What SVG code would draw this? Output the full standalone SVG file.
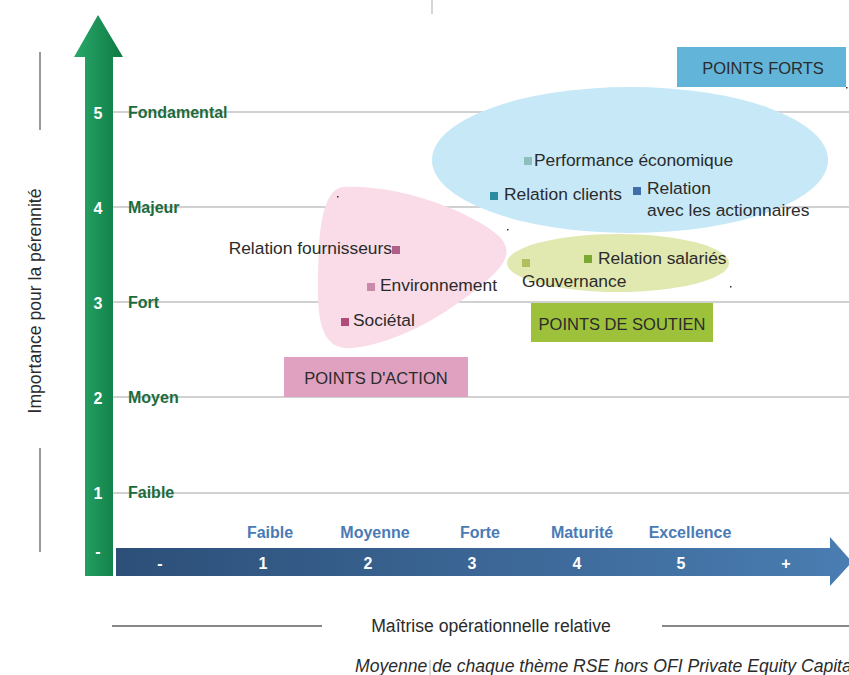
<svg xmlns="http://www.w3.org/2000/svg" width="849" height="675" viewBox="0 0 849 675">
<style>
.grid{stroke:#c2c2c2;stroke-width:1.5}
.ylab{font-family:"Liberation Sans",Arial,sans-serif;font-weight:bold;font-size:16px;fill:#1d6b3c}
.ynum{font-family:"Liberation Sans",Arial,sans-serif;font-weight:bold;font-size:16px;fill:#ffffff;text-anchor:middle}
.xlab{font-family:"Liberation Sans",Arial,sans-serif;font-weight:bold;font-size:16px;fill:#4a7bb5;text-anchor:middle}
.xnum{font-family:"Liberation Sans",Arial,sans-serif;font-weight:bold;font-size:16px;fill:#ffffff;text-anchor:middle}
.lbl{font-family:"Liberation Sans",Arial,sans-serif;font-size:17.4px;fill:#2b2b2b}
.box{font-family:"Liberation Sans",Arial,sans-serif;font-size:16.5px;fill:#2b2b2b;text-anchor:middle}
.axis{font-family:"Liberation Sans",Arial,sans-serif;font-size:17.6px;fill:#2b2b2b}
</style>
<defs>
<linearGradient id="gv" x1="0" y1="0" x2="1" y2="0">
<stop offset="0" stop-color="#2aa86a"/>
<stop offset="1" stop-color="#0d7a43"/>
</linearGradient>
<linearGradient id="gh" x1="0" y1="0" x2="1" y2="0">
<stop offset="0" stop-color="#2c4f78"/>
<stop offset="1" stop-color="#4a7db2"/>
</linearGradient>
</defs>
<rect width="849" height="675" fill="#ffffff"/>

<!-- gridlines -->
<g id="grid">
<line class="grid" x1="113" y1="112" x2="849" y2="112"/>
<line class="grid" x1="113" y1="207" x2="849" y2="207"/>
<line class="grid" x1="113" y1="302" x2="849" y2="302"/>
<line class="grid" x1="113" y1="397" x2="849" y2="397"/>
<line class="grid" x1="113" y1="493" x2="849" y2="493"/>
</g>

<!-- zones -->
<g id="zone-forts">
<ellipse cx="630" cy="160" rx="198" ry="73" fill="#c6e8f7"/>
<rect x="677" y="47" width="169" height="40" fill="#63b4d9"/>
<text class="box" x="763" y="74">POINTS FORTS</text>
</g>
<g id="zone-action">
<path d="M343 187 C400 184 472 212 499 236 C513 250 507 264 485 282 C446 316 395 344 352 348 C326 350 318 330 318 290 C318 240 320 190 343 187 Z" fill="#f9dce7"/>
<rect x="284" y="357" width="184" height="40" fill="#dfa1bf"/>
<text class="box" x="376" y="384">POINTS D'ACTION</text>
</g>
<g id="zone-soutien">
<ellipse cx="618" cy="263" rx="111" ry="29" fill="#e1e8b0"/>
<rect x="531" y="303" width="182" height="39" fill="#9dc13b"/>
<text class="box" x="622" y="330">POINTS DE SOUTIEN</text>
</g>

<!-- data points -->
<g id="p-performance"><rect x="524" y="157" width="8" height="8" fill="#8fbcbc"/><text class="lbl" x="534" y="166">Performance économique</text></g>
<g id="p-clients"><rect x="490" y="192" width="8" height="8" fill="#2a8aa0"/><text class="lbl" x="504" y="200">Relation clients</text></g>
<g id="p-actionnaires"><rect x="633" y="187" width="8" height="8" fill="#3f6ea8"/><text class="lbl" x="647" y="194">Relation</text><text class="lbl" x="647" y="216">avec les actionnaires</text></g>
<g id="p-fournisseurs"><text class="lbl" x="392" y="254" text-anchor="end">Relation fournisseurs</text><rect x="392" y="246" width="8" height="8" fill="#b06088"/></g>
<g id="p-environnement"><rect x="367" y="283" width="8" height="8" fill="#c88aa8"/><text class="lbl" x="380" y="291">Environnement</text></g>
<g id="p-societal"><rect x="341" y="318" width="8" height="8" fill="#b04a7a"/><text class="lbl" x="353" y="326">Sociétal</text></g>
<g id="p-gouvernance"><rect x="522" y="259" width="8" height="8" fill="#b0c060"/><text class="lbl" x="522" y="287">Gouvernance</text></g>
<g id="p-salaries"><rect x="584" y="255" width="8" height="8" fill="#7aa830"/><text class="lbl" x="598" y="264">Relation salariés</text></g>

<!-- tiny marks -->
<g id="dots" fill="#333">
<rect x="337" y="196" width="1.5" height="1.5"/>
<rect x="507" y="229" width="1.5" height="1.5"/>
<rect x="730" y="286" width="1.5" height="1.5"/>
<rect x="846" y="87" width="1.5" height="1.5"/>
</g>

<!-- vertical axis -->
<g id="y-axis">
<path d="M98 15 L123 57 L113 57 L113 576 L85 576 L85 57 L74 57 Z" fill="url(#gv)"/>
<text class="ynum" x="98" y="119">5</text>
<text class="ynum" x="98" y="214">4</text>
<text class="ynum" x="98" y="309">3</text>
<text class="ynum" x="98" y="404">2</text>
<text class="ynum" x="98" y="499">1</text>
<text class="ynum" x="98" y="557">-</text>
<text class="ylab" x="128" y="118">Fondamental</text>
<text class="ylab" x="128" y="213">Majeur</text>
<text class="ylab" x="128" y="308">Fort</text>
<text class="ylab" x="128" y="403">Moyen</text>
<text class="ylab" x="128" y="498">Faible</text>
</g>

<!-- horizontal axis -->
<g id="x-axis">
<path d="M116 548 L830 548 L830 537 L852 562 L830 586 L830 576 L116 576 Z" fill="url(#gh)"/>
<text class="xnum" x="160" y="569">-</text>
<text class="xnum" x="263" y="569">1</text>
<text class="xnum" x="368" y="569">2</text>
<text class="xnum" x="472" y="569">3</text>
<text class="xnum" x="577" y="569">4</text>
<text class="xnum" x="681" y="569">5</text>
<text class="xnum" x="786" y="569">+</text>
<text class="xlab" x="270" y="538">Faible</text>
<text class="xlab" x="375" y="538">Moyenne</text>
<text class="xlab" x="480" y="538">Forte</text>
<text class="xlab" x="582" y="538">Maturité</text>
<text class="xlab" x="690" y="538">Excellence</text>
</g>

<!-- axis titles -->
<g id="titles">
<line x1="40" y1="52" x2="40" y2="130" stroke="#555" stroke-width="1.2"/>
<line x1="40" y1="448" x2="40" y2="552" stroke="#555" stroke-width="1.2"/>
<text class="axis" transform="translate(41 301) rotate(-90)" text-anchor="middle">Importance pour la pérennité</text>
<line x1="112" y1="626" x2="322" y2="626" stroke="#111" stroke-width="1.2"/>
<line x1="662" y1="626" x2="849" y2="626" stroke="#111" stroke-width="1.2"/>
<text class="axis" x="491" y="632" text-anchor="middle">Maîtrise opérationnelle relative</text>
<text class="axis" x="355" y="672" font-style="italic">Moyenne de chaque thème RSE hors OFI Private Equity Capital</text>
<line x1="432" y1="0" x2="432" y2="14" stroke="#bbb" stroke-width="1.2"/>
<line x1="430" y1="660" x2="430" y2="675" stroke="#bbb" stroke-width="1.2"/>
</g>
</svg>
